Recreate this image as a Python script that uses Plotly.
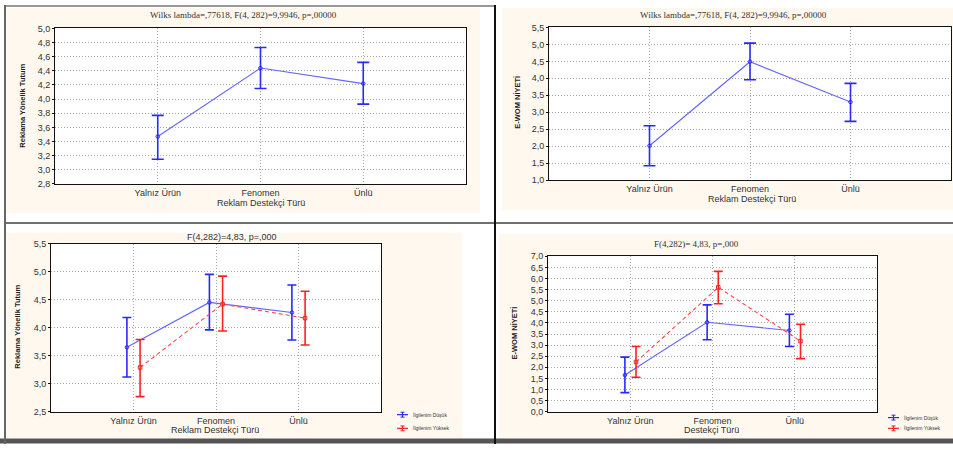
import plotly.graph_objects as go

W, H = 953, 449

categories = ["Yalnız Ürün", "Fenomen", "Ünlü"]

# Panel 1: Reklama Yönelik Tutum (overall)
p1_mean = [3.47, 4.44, 4.22]
p1_low = [3.15, 4.15, 3.93]
p1_high = [3.77, 4.73, 4.52]
p1_yticks = [2.8, 3.0, 3.2, 3.4, 3.6, 3.8, 4.0, 4.2, 4.4, 4.6, 4.8, 5.0]
p1_yticktext = ["2,8", "3,0", "3,2", "3,4", "3,6", "3,8", "4,0", "4,2", "4,4", "4,6", "4,8", "5,0"]

# Panel 2: E-WOM Niyeti (overall)
p2_mean = [2.01, 4.49, 3.30]
p2_low = [1.42, 3.96, 2.73]
p2_high = [2.60, 5.04, 3.85]
p2_yticks = [1.0, 1.5, 2.0, 2.5, 3.0, 3.5, 4.0, 4.5, 5.0, 5.5]
p2_yticktext = ["1,0", "1,5", "2,0", "2,5", "3,0", "3,5", "4,0", "4,5", "5,0", "5,5"]

# Panel 3: Reklama Yönelik Tutum by involvement
p3_low_mean = [3.65, 4.45, 4.27]
p3_low_lo = [3.12, 3.96, 3.78]
p3_low_hi = [4.18, 4.95, 4.76]
p3_high_mean = [3.29, 4.42, 4.17]
p3_high_lo = [2.77, 3.94, 3.69]
p3_high_hi = [3.79, 4.92, 4.65]
p3_yticks = [2.5, 3.0, 3.5, 4.0, 4.5, 5.0, 5.5]
p3_yticktext = ["2,5", "3,0", "3,5", "4,0", "4,5", "5,0", "5,5"]

# Panel 4: E-WOM Niyeti by involvement
p4_low_mean = [1.65, 4.03, 3.66]
p4_low_lo = [0.86, 3.24, 2.94]
p4_low_hi = [2.46, 4.81, 4.39]
p4_high_mean = [2.24, 5.60, 3.18]
p4_high_lo = [1.55, 4.86, 2.39]
p4_high_hi = [2.94, 6.32, 3.94]
p4_yticks = [0.0, 0.5, 1.0, 1.5, 2.0, 2.5, 3.0, 3.5, 4.0, 4.5, 5.0, 5.5, 6.0, 6.5, 7.0]
p4_yticktext = ["0,0", "0,5", "1,0", "1,5", "2,0", "2,5", "3,0", "3,5", "4,0", "4,5", "5,0", "5,5", "6,0", "6,5", "7,0"]

series_names = ["İlgilenim Düşük", "İlgilenim Yüksek"]
titles = [
    "Wilks lambda=,77618, F(4, 282)=9,9946, p=,00000",
    "Wilks lambda=,77618, F(4, 282)=9,9946, p=,00000",
    "F(4,282)=4,83, p=,000",
    "F(4,282)= 4,83, p=,000",
]
ytitles = ["Reklama Yönelik Tutum", "E-WOM NİYETİ", "Reklama Yönelik Tutum", "E-WOM NİYETİ"]
xtitles = ["Reklam Destekçi Türü", "Reklam Destekçi Türü", "Reklam Destekçi Türü", "Destekçi Türü"]

BLUE_BAR = "#2828ff"
BLUE_LINE = "#6464ff"
RED_BAR = "#ff2020"
RED_LINE = "#ff4646"
CREAM = "#fff8ee"
GRID = "#a8a8a8"
TICKFONT = dict(family="Liberation Sans, Arial", size=9, color="#333333")

# pixel boxes of plot areas (x0, x1, y0, y1) top-down pixels
boxes = [(55, 466, 24, 183), (549, 951, 23, 179), (51, 381, 244, 416), (548, 877, 257, 416)]


def dom(b):
    x0, x1, y0, y1 = b
    return [x0 / W, x1 / W], [1 - y1 / H, 1 - y0 / H]


fig = go.Figure()


def add_series(i, mean, lo, hi, offset, bar_color, line_color, dash, symbol, capw, name):
    ax = "" if i == 0 else str(i + 1)
    xs = [k + offset for k in range(len(mean))]
    fig.add_trace(go.Scatter(
        x=xs, y=mean, mode="lines+markers", name=name, showlegend=False,
        xaxis="x" + ax, yaxis="y" + ax,
        line=dict(color=line_color, width=1.1, dash=dash),
        marker=dict(symbol=symbol, size=3.5, color=bar_color, line=dict(color=bar_color, width=1)),
        error_y=dict(type="data", symmetric=False,
                     array=[h - m for h, m in zip(hi, mean)],
                     arrayminus=[m - l for m, l in zip(mean, lo)],
                     color=bar_color, thickness=1.6, width=capw),
    ))


add_series(0, p1_mean, p1_low, p1_high, 0.0, BLUE_BAR, BLUE_LINE, "solid", "circle-open", 6, "Ortalama")
add_series(1, p2_mean, p2_low, p2_high, 0.0, BLUE_BAR, BLUE_LINE, "solid", "circle-open", 6, "Ortalama")
add_series(2, p3_low_mean, p3_low_lo, p3_low_hi, -0.08, BLUE_BAR, BLUE_LINE, "solid", "circle-open", 4.5, series_names[0])
add_series(2, p3_high_mean, p3_high_lo, p3_high_hi, 0.08, RED_BAR, RED_LINE, "4px,3px", "square-open", 4.5, series_names[1])
add_series(3, p4_low_mean, p4_low_lo, p4_low_hi, -0.065, BLUE_BAR, BLUE_LINE, "solid", "circle-open", 4.5, series_names[0])
add_series(3, p4_high_mean, p4_high_lo, p4_high_hi, 0.07, RED_BAR, RED_LINE, "4px,3px", "square-open", 4.5, series_names[1])

yt = [(p1_yticks, p1_yticktext), (p2_yticks, p2_yticktext), (p3_yticks, p3_yticktext), (p4_yticks, p4_yticktext)]
layout = {}
for i, b in enumerate(boxes):
    xd, yd = dom(b)
    ax = "" if i == 0 else str(i + 1)
    ticks, tt = yt[i]
    layout["xaxis" + ax] = dict(
        domain=xd, anchor="y" + ax, range=[-1, 3], tickvals=list(range(len(categories))),
        ticktext=categories, showgrid=True, gridcolor=GRID, griddash="1px,2px", gridwidth=1,
        showline=True, mirror=True, linecolor="#111111", linewidth=1, zeroline=False,
        ticks="", tickfont=TICKFONT, fixedrange=True,
    )
    layout["yaxis" + ax] = dict(
        domain=yd, anchor="x" + ax, range=[ticks[0], ticks[-1]], tickvals=ticks, ticktext=tt,
        showgrid=True, gridcolor=GRID, griddash="1px,2px", gridwidth=1,
        showline=True, mirror=True, linecolor="#111111", linewidth=1, zeroline=False,
        ticks="outside", ticklen=2, tickcolor="#111111", tickfont=TICKFONT, fixedrange=True,
    )

shapes = []
# cream panel backgrounds
for (x0, x1, y0, y1) in [(6, 480, 3, 213), (502, 953, 3, 210), (6, 462, 233, 443), (499, 953, 234, 443)]:
    shapes.append(dict(type="rect", xref="paper", yref="paper", x0=x0 / W, x1=x1 / W,
                       y0=1 - y1 / H, y1=1 - y0 / H, fillcolor=CREAM, line=dict(width=0), layer="below"))
# white plot areas
for (x0, x1, y0, y1) in boxes:
    shapes.append(dict(type="rect", xref="paper", yref="paper", x0=x0 / W, x1=x1 / W,
                       y0=1 - y1 / H, y1=1 - y0 / H, fillcolor="white", line=dict(width=0), layer="below"))


def hline(y, x0, x1, color, w):
    shapes.append(dict(type="line", xref="paper", yref="paper", x0=x0 / W, x1=x1 / W,
                       y0=1 - y / H, y1=1 - y / H, line=dict(color=color, width=w)))


def vline(x, y0, y1, color, w):
    shapes.append(dict(type="line", xref="paper", yref="paper", x0=x / W, x1=x / W,
                       y0=1 - y0 / H, y1=1 - y1 / H, line=dict(color=color, width=w)))


hline(1, 4, 495, "#777777", 1.5)
hline(223, 4, 953, "#707070", 2)
hline(446, 0, 953, "#555555", 5)
vline(5, 0, 449, "#666666", 2)
vline(495, 0, 449, "#111111", 2)

annotations = []
title_pos = [(244, 10, "Liberation Serif, Times New Roman"), (733, 10, "Liberation Serif, Times New Roman"),
             (232, 237, "Liberation Sans, Arial"), (696, 244, "Liberation Serif, Times New Roman")]
for t, (x, y, fam) in zip(titles, title_pos):
    annotations.append(dict(text=t, x=x / W, y=1 - y / H, xref="paper", yref="paper", showarrow=False,
                            xanchor="center", yanchor="middle", font=dict(family=fam, size=9, color="#333333")))
ytitle_pos = [(23, 103), (518, 100), (18, 329), (515, 336)]
for t, (x, y) in zip(ytitles, ytitle_pos):
    annotations.append(dict(text="<b>" + t + "</b>", x=x / W, y=1 - y / H, xref="paper", yref="paper",
                            showarrow=False, textangle=-90, xanchor="center", yanchor="middle",
                            font=dict(family="Liberation Sans Narrow, Arial Narrow, Liberation Sans", size=7.5, color="#222222")))
xtitle_pos = [(261, 202), (752, 198), (215, 435), (711, 435)]
for t, (x, y) in zip(xtitles, xtitle_pos):
    annotations.append(dict(text=t, x=x / W, y=1 - y / H, xref="paper", yref="paper", showarrow=False,
                            xanchor="center", yanchor="middle", font=TICKFONT))

# legends (panel 3 and 4)
for (lx, ly1, ly2) in [(397, 419, 433), (888, 422, 433)]:
    for name, yy, col in [(series_names[0], ly1, BLUE_BAR), (series_names[1], ly2, RED_BAR)]:
        hline(yy, lx, lx + 11, col, 1.2)
        vline(lx + 5.5, yy - 2.5, yy + 2.5, col, 1.2)
        hline(yy - 2.5, lx + 3.5, lx + 7.5, col, 1)
        hline(yy + 2.5, lx + 3.5, lx + 7.5, col, 1)
        annotations.append(dict(text=name, x=(lx + 14) / W, y=1 - yy / H, xref="paper", yref="paper",
                                showarrow=False, xanchor="left", yanchor="middle",
                                font=dict(family="Liberation Sans, Arial", size=5, color="#333333")))

fig.update_layout(
    width=W, height=H, margin=dict(l=0, r=0, t=0, b=0),
    paper_bgcolor="white", plot_bgcolor="rgba(0,0,0,0)",
    shapes=shapes, annotations=annotations, showlegend=False, **layout,
)

fig.write_html("out.html", config={"displayModeBar": False},
               post_script="document.body.style.margin='0';document.body.style.overflow='hidden';")
